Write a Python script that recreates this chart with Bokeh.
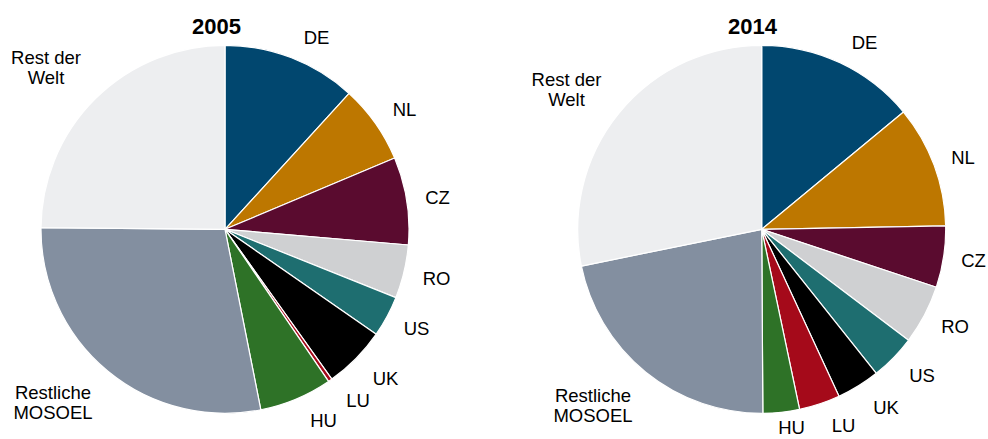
import numpy as np
from bokeh.plotting import figure
from bokeh.models import Range1d, ColumnDataSource
from bokeh.core.properties import value
from bokeh.embed import file_html
from bokeh.resources import INLINE

# ---- data ----
categories = ["DE", "NL", "CZ", "RO", "US", "UK", "LU", "HU", "Restliche MOSOEL", "Rest der Welt"]
share_2005 = [11.8, 6.9, 7.7, 4.7, 3.6, 5.5, 0.35, 6.4, 28.3, 24.9]
share_2014 = [14.0, 10.7, 5.4, 5.2, 4.0, 3.8, 3.6, 3.2, 21.9, 28.2]
years = ["2005", "2014"]
colors = ["#01476F", "#BD7700", "#5A0B2F", "#CFD0D2", "#1E6E70", "#000000",
          "#A50A1A", "#2E7227", "#838FA0", "#EDEEF0"]

# ---- layout (screen pixel coordinates) ----
W, H = 988, 439
centers = [(224.5, 228.8), (761.2, 228.8)]
radius = 184
title_pos = [(216, 25.5), (752, 25.5)]
label_lines = [["DE"], ["NL"], ["CZ"], ["RO"], ["US"], ["UK"], ["LU"], ["HU"],
               ["Restliche", "MOSOEL"], ["Rest der", "Welt"]]
label_pos = [
    [(316, 37), (404, 109), (437, 197), (436, 277.5), (416, 328), (385, 378),
     (357.5, 400), (323, 419.5), (52.5, 402), (45.5, 67)],
    [(864, 42), (962.5, 157), (973, 260), (954.5, 326), (921.5, 375),
     (885.5, 407), (843, 424.5), (791, 427), (592.5, 405), (566, 89)],
]
line_gap = 20.5

p = figure(width=W, height=H, output_backend="svg", toolbar_location=None,
           x_range=Range1d(0, W), y_range=Range1d(0, H),
           x_axis_type=None, y_axis_type=None, min_border=0,
           outline_line_color=None, background_fill_color="white")
p.xgrid.visible = False
p.ygrid.visible = False

def sy(y):
    return H - y

for k, shares in enumerate([share_2005, share_2014]):
    s = np.array(shares, dtype=float)
    frac = s / s.sum()
    cum = np.concatenate([[0], np.cumsum(frac)]) * 2 * np.pi
    # clockwise from top -> bokeh angles
    start = np.pi / 2 - cum[1:]
    end = np.pi / 2 - cum[:-1]
    cx, cy = centers[k]
    src = ColumnDataSource(dict(x=[cx] * len(s), y=[sy(cy)] * len(s),
                                start=start, end=end, color=colors, cat=categories))
    p.wedge(x="x", y="y", radius=radius, start_angle="start", end_angle="end",
            fill_color="color", line_color="white", line_width=1.2, source=src)

    tx, ty, tt = [], [], []
    for lines, (lx, ly) in zip(label_lines, label_pos[k]):
        n = len(lines)
        for j, t in enumerate(lines):
            tx.append(lx)
            ty.append(sy(ly + (j - (n - 1) / 2) * line_gap))
            tt.append(t)
    p.text(x=tx, y=ty, text=tt, text_font=value("Liberation Sans"),
           text_font_size=value("18.5px"), text_align="center",
           text_baseline="middle", text_color="#000000")
    p.text(x=[title_pos[k][0]], y=[sy(title_pos[k][1])], text=[years[k]],
           text_font=value("Liberation Sans"), text_font_size=value("22px"),
           text_font_style="bold", text_align="center", text_baseline="middle",
           text_color="#000000")

open("out.html", "w").write(file_html(p, INLINE))
